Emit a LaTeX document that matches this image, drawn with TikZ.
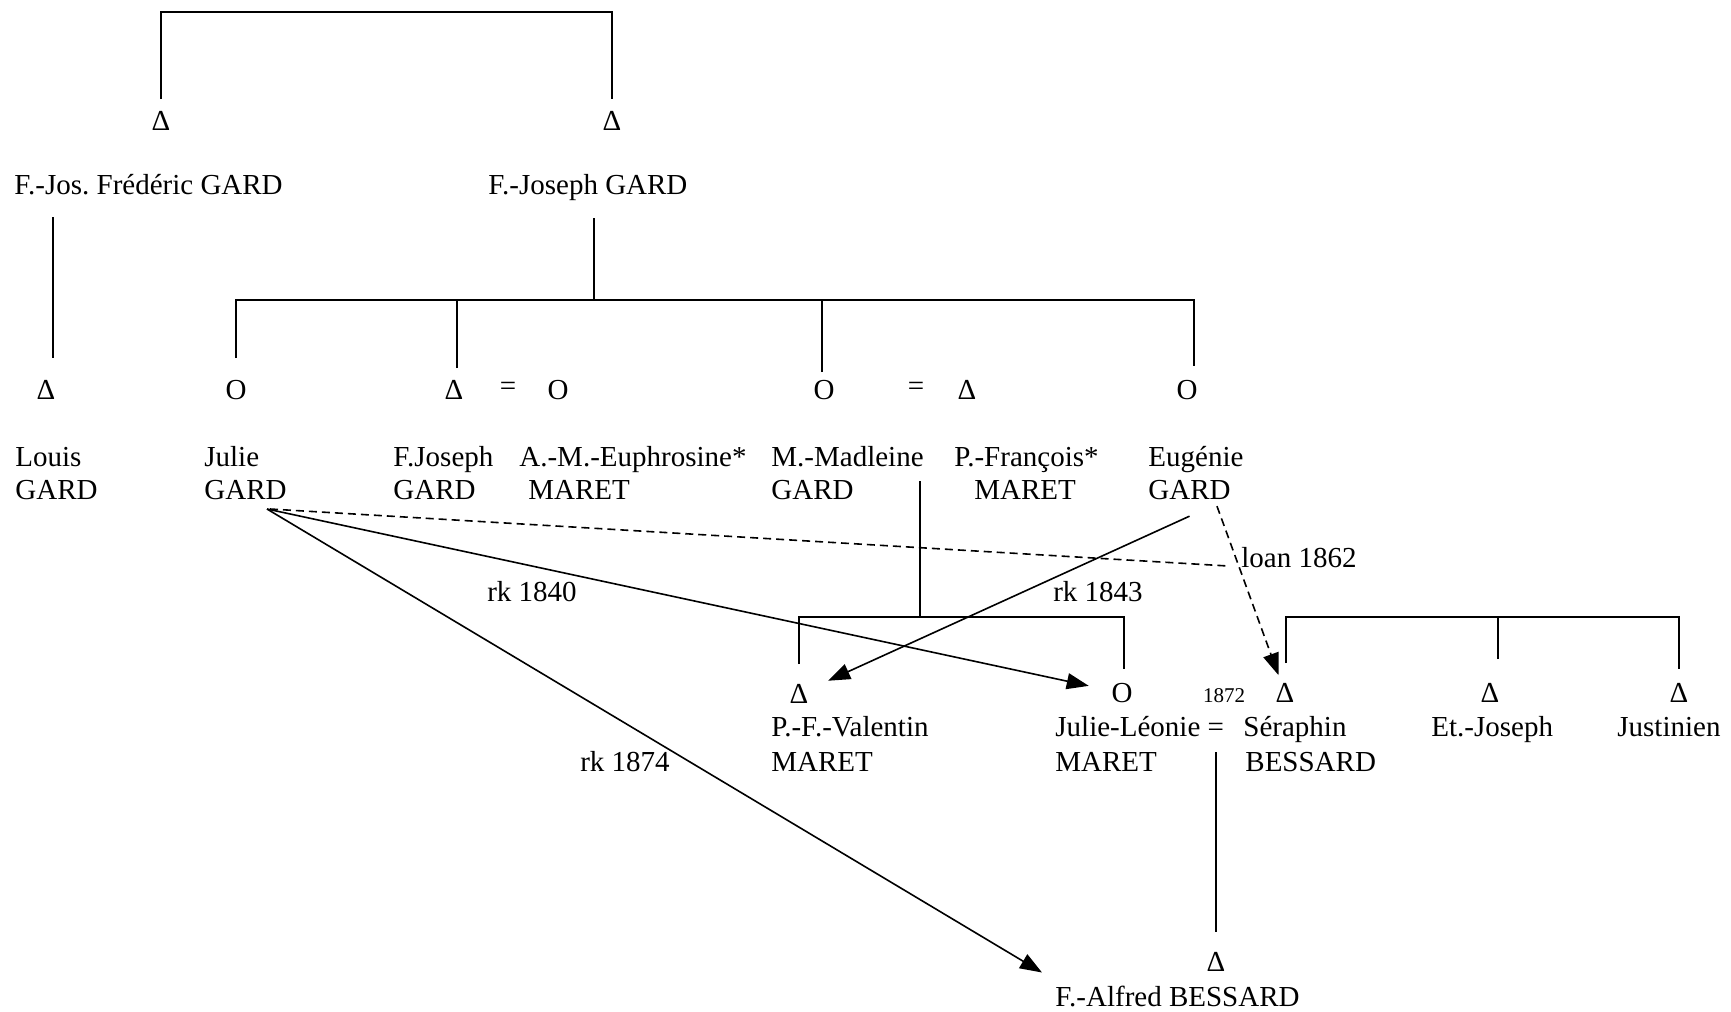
\documentclass[tikz,border=0pt]{standalone}
\usepackage{fontspec}
\setmainfont{Liberation Serif}
\usetikzlibrary{arrows.meta}
\frenchspacing
\begin{document}
\begin{tikzpicture}[x=0.5pt,y=-0.5pt,
  every node/.style={inner sep=0pt, font=\fontsize{14.5}{17}\selectfont},
  nm/.style={anchor=base west},
  kin/.style={line width=0.8pt},
  rel/.style={line width=0.8pt, -{Triangle[length=11pt,width=8pt]}},
  loanln/.style={line width=0.8pt, dash pattern=on 4pt off 2.5pt},
  smalltxt/.style={font=\fontsize{10.5}{12}\selectfont}]
\useasboundingbox (0,0) rectangle (1731,1012);

% generation 1
\node (dA) at (161,121) {Δ};
\node (dB) at (612,121) {Δ};
\node[nm] (fred) at (14,194.5) {F.-Jos. Frédéric GARD};
\node[nm] (fjos) at (488,194.5) {F.-Joseph GARD};
\coordinate (topbar) at (388,12);
\draw[kin] ([yshift=11pt]dA.center) -- (dA |- topbar) -- (dB |- topbar) -- ([yshift=11pt]dB.center);

% generation 2 symbols
\node (sL) at (46,390) {Δ};
\node (sJ) at (236,390) {O};
\node (sF) at (454,390) {Δ};
\node (eq1) at (508,389) {=};
\node (sA) at (558,390) {O};
\node (sM) at (824,390) {O};
\node (eq2) at (916,389) {=};
\node (sP) at (967,390) {Δ};
\node (sE) at (1187,390) {O};

% generation 2 names
\node[nm] (louis) at (15,466.5) {Louis};
\node[nm] (lg) at (15,499.5) {GARD};
\node[nm] (julie) at (204,466.5) {Julie};
\node[nm] (jg) at (204,499.5) {GARD};
\node[nm] (fj) at (393,466.5) {F.Joseph};
\node[nm] (fjg) at (393,499.5) {GARD};
\node[nm] (am) at (519,466.5) {A.-M.-Euphrosine*};
\node[nm] (amm) at (528,499.5) {MARET};
\node[nm] (mm) at (771,466.5) {M.-Madleine};
\node[nm] (mmg) at (771,499.5) {GARD};
\node[nm] (pf) at (954,466.5) {P.-François*};
\node[nm] (pfm) at (974,499.5) {MARET};
\node[nm] (eu) at (1148,466.5) {Eugénie};
\node[nm] (eg) at (1148,499.5) {GARD};

% kin lines generation 1 -> 2
\draw[kin] ([xshift=3.5pt,yshift=-11pt]fred.south -| sL) -- ([xshift=3.5pt,yshift=16pt]sL.center);
\coordinate (midbar) at (600,300);
\coordinate (jstem) at (594,218);
\draw[kin] (jstem) -- (jstem |- midbar);
\draw[kin] ([yshift=16pt]sJ.center) -- (sJ |- midbar) -- ([xshift=3.5pt]sE |- midbar) -- ([xshift=3.5pt,yshift=12pt]sE.center);
\draw[kin] ([xshift=1.5pt,yshift=11pt]sF.center) -- ([xshift=1.5pt]sF |- midbar);
\draw[kin] ([xshift=-1pt,yshift=9pt]sM.center) -- ([xshift=-1pt]sM |- midbar);

% generation 3 symbols
\node (sV) at (799,694) {Δ};
\node (sJL) at (1122,693) {O};
\node[smalltxt] (y1872) at (1224,696) {1872};
\node (sS) at (1285,693) {Δ};
\node (sEt) at (1490,693) {Δ};
\node (sJu) at (1679,693) {Δ};

% generation 3 names
\node[nm] (val) at (771,736.5) {P.-F.-Valentin};
\node[nm] (valm) at (771,771.5) {MARET};
\node[nm] (jl) at (1055,736.5) {Julie-Léonie =};
\node[nm] (jlm) at (1055,771.5) {MARET};
\node[nm] (ser) at (1243,736.5) {Séraphin};
\node[nm] (serb) at (1245,771.5) {BESSARD};
\node[nm] (etj) at (1431,736.5) {Et.-Joseph};
\node[nm] (jus) at (1617,736.5) {Justinien};

% kin lines generation 2 -> 3
\coordinate (mstem) at (920,481);
\coordinate (lowbar) at (0,617);
\draw[kin] (mstem) -- (mstem |- lowbar);
\draw[kin] ([yshift=15pt]sV.center) -- (sV |- lowbar) -- ([xshift=1pt]sJL |- lowbar) -- ([xshift=1pt,yshift=12pt]sJL.center);
\draw[kin] ([xshift=0.5pt,yshift=15pt]sS.center) -- ([xshift=0.5pt]sS |- lowbar) -- (sJu |- lowbar) -- ([yshift=12pt]sJu.center);
\draw[kin] ([xshift=4pt,yshift=17pt]sEt.center) -- ([xshift=4pt]sEt |- lowbar);

% generation 4
\node (sFA) at (1216,962) {Δ};
\node[nm] (fa) at (1055,1006.5) {F.-Alfred BESSARD};
\coordinate (mar) at (1216,752);
\draw[kin] (mar) -- ([yshift=15pt]sFA.center);

% relation arrows
\coordinate (jstart) at (267,509);
\draw[rel, shorten >=17pt] (jstart) -- (sJL.center);
\draw[rel] (jstart) -- ([shift={(-6.5pt,12pt)}]fa.west);
\draw[rel, shorten >=16pt] ([yshift=-8pt]eg.south) -- (sV.center);
\draw[loanln, -{Triangle[length=11pt,width=8pt]}, shorten >=9.5pt] ([shift={(-7pt,-3pt)}]eg.south east) -- (sS.center);
\coordinate (loanend) at (1228,566);
\draw[loanln] ([xshift=1.5pt]jstart) -- (loanend);

% labels
\node (l1840) at (532,592) {rk 1840};
\node (l1843) at (1098,592) {rk 1843};
\node (l1874) at (625,762) {rk 1874};
\node[anchor=west] (l1862) at (1241,558) {loan 1862};
\end{tikzpicture}
\end{document}
